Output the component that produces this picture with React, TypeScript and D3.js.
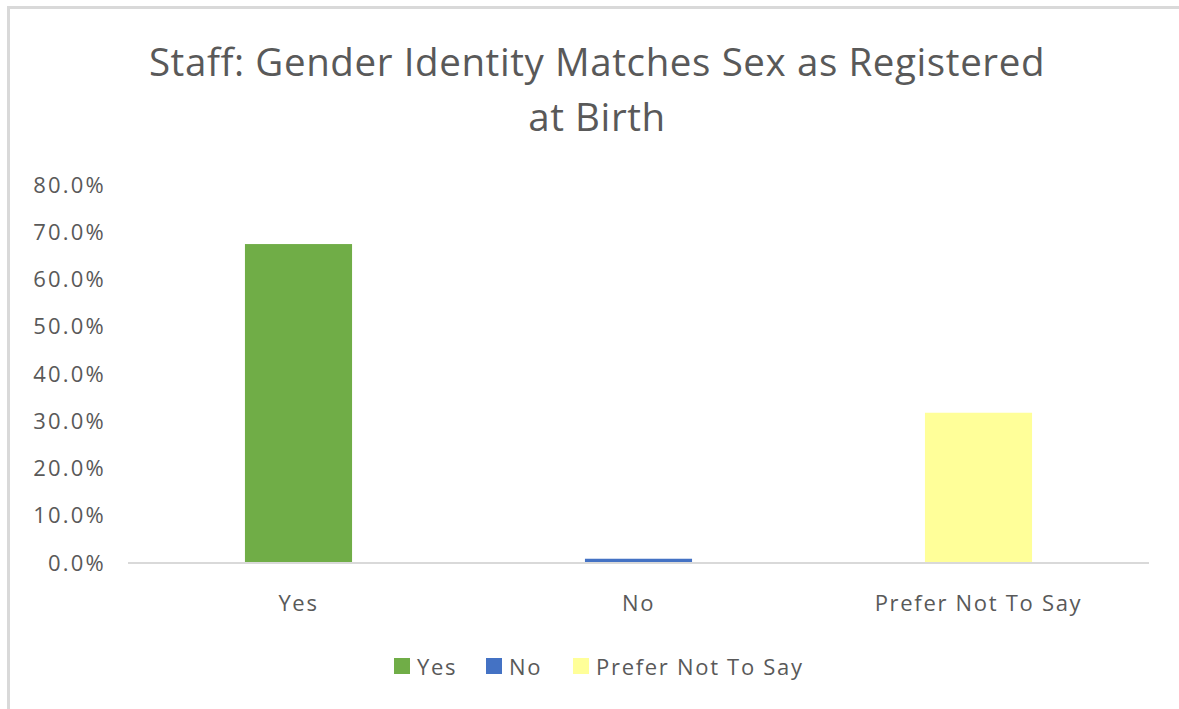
import React from 'react';
import * as d3 from 'd3';

const categories = ['Yes', 'No', 'Prefer Not To Say'];
const values = [0.675, 0.009, 0.318];
const colors = ['#70ad47', '#4472c4', '#ffff99'];
const yTicks = [0, 0.1, 0.2, 0.3, 0.4, 0.5, 0.6, 0.7, 0.8];
const titleLines = ['Staff: Gender Identity Matches Sex as Registered', 'at Birth'];

export default function App() {
  const width = 1179;
  const height = 709;
  const font = "'Open Sans', sans-serif";
  const grey = '#595959';

  const x = d3.scaleBand<string>()
    .domain(categories)
    .range([128.5, 1148.5])
    .paddingInner(0.685)
    .paddingOuter(0.3425);
  const y = d3.scaleLinear().domain([0, 0.8]).range([563, 185]);
  const fmt = d3.format('.1%');

  // legend layout
  const legendX = [394, 486, 573];

  return (
    <svg width={width} height={height} style={{ position: 'absolute', left: 0, top: 0 }}>
      <rect x={0} y={0} width={width} height={height} fill="#fff" />
      <rect x={8.5} y={7.5} width={width + 10} height={height + 10} fill="none" stroke="#d9d9d9" strokeWidth={3} />

      {titleLines.map((t, i) => (
        <text key={t} x={597} y={76 + i * 55} textAnchor="middle" fontFamily={font} fontSize={38.5} letterSpacing={0.6} fill={grey}>{t}</text>
      ))}

      {yTicks.map(t => (
        <text key={t} x={106} y={y(t)} dy="0.35em" textAnchor="end" fontFamily={font} fontSize={22} letterSpacing={2.2} fill={grey}>{fmt(t)}</text>
      ))}

      {categories.map((c, i) => (
        <rect key={c} x={x(c)} y={y(values[i])} width={x.bandwidth()} height={y(0) - y(values[i])} fill={colors[i]} />
      ))}

      <line x1={128} x2={1149} y1={y(0)} y2={y(0)} stroke="#d9d9d9" strokeWidth={2} />

      {categories.map(c => (
        <text key={c} x={(x(c) as number) + x.bandwidth() / 2} y={611} textAnchor="middle" fontFamily={font} fontSize={22} letterSpacing={1.7} fill={grey}>{c}</text>
      ))}

      {categories.map((c, i) => (
        <g key={c} transform={`translate(${legendX[i]},0)`}>
          <rect x={0} y={658} width={16} height={16} fill={colors[i]} />
          <text x={23} y={675} fontFamily={font} fontSize={22} letterSpacing={1.7} fill={grey}>{c}</text>
        </g>
      ))}
    </svg>
  );
}
